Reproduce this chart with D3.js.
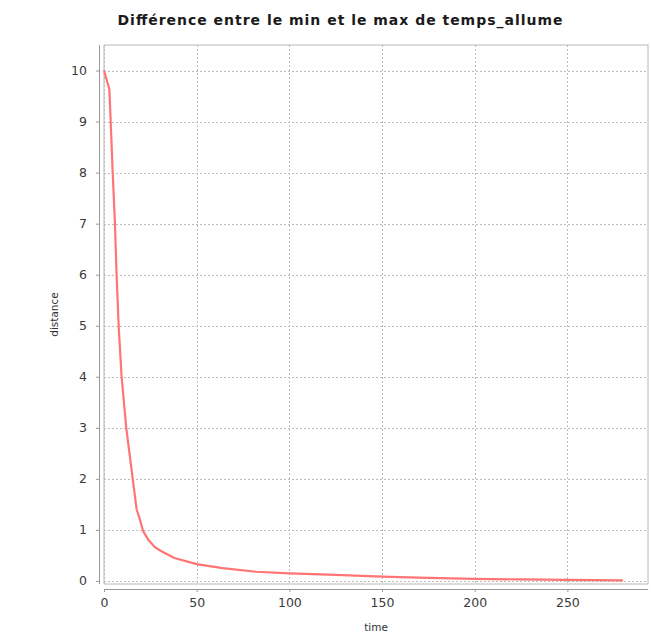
<!DOCTYPE html>
<html><head><meta charset="utf-8">
<script src="https://cdn.jsdelivr.net/npm/d3@7"></script>
<style>body{margin:0;background:#fff;} svg{display:block;}</style>
</head><body>
<svg id="c" width="651" height="635"></svg>
<script>
const chartTitle = "Différence entre le min et le max de temps_allume";
const xLabel = "time";
const yLabel = "distance";
const times = [0, 2.9, 3.6, 4.7, 5.9, 6.8, 7.9, 9.5, 12, 15.5, 17.6, 19.4, 21.2, 24, 27.5, 32, 38, 50, 64, 82, 100, 125, 150, 175, 200, 225, 250, 280];
const distances = [10, 9.63, 9.0, 8.0, 7.0, 6.0, 5.0, 4.0, 3.0, 2.0, 1.4, 1.2, 0.97, 0.8, 0.66, 0.56, 0.45, 0.33, 0.25, 0.18, 0.15, 0.12, 0.085, 0.06, 0.04, 0.03, 0.02, 0.01];
const xTicks = [0, 50, 100, 150, 200, 250];
const yTicks = [0, 1, 2, 3, 4, 5, 6, 7, 8, 9, 10];

const svg = d3.select("#c");
const L = 104, R = 648, T = 45, B = 584;
const x = d3.scaleLinear().domain([0, 293.5]).range([L, R]);
const y = d3.scaleLinear().domain([-0.06, 10.5]).range([B, T]);

// plot background & border
svg.append("rect").attr("x", L).attr("y", T).attr("width", R - L).attr("height", B - T)
  .attr("fill", "#fff").attr("stroke", "#b8b8b8").attr("stroke-width", 1);

// gridlines
const grid = svg.append("g").attr("stroke", "#bdbdbd").attr("stroke-width", 1).attr("stroke-dasharray", "2,2");
grid.selectAll("line.v").data(xTicks).join("line")
  .attr("x1", d => Math.round(x(d)) + 0.5).attr("x2", d => Math.round(x(d)) + 0.5)
  .attr("y1", T).attr("y2", B);
grid.selectAll("line.h").data(yTicks).join("line")
  .attr("y1", d => Math.round(y(d)) + 0.5).attr("y2", d => Math.round(y(d)) + 0.5)
  .attr("x1", L).attr("x2", R);

// axes
const xAxis = d3.axisBottom(x).tickValues(xTicks).tickSizeInner(3).tickSizeOuter(0).tickPadding(6);
const yAxis = d3.axisLeft(y).tickValues(yTicks).tickSizeInner(3).tickSizeOuter(0).tickPadding(9);
const gx = svg.append("g").attr("transform", "translate(0,589)").call(xAxis);
const gy = svg.append("g").attr("transform", "translate(99,0)").call(yAxis);
[gx, gy].forEach(g => {
  g.select(".domain").attr("stroke", "#9a9a9a");
  g.selectAll(".tick line").attr("stroke", "#9a9a9a");
  g.selectAll(".tick text").attr("fill", "#3a3a3a").attr("font-family", "DejaVu Sans, sans-serif").attr("font-size", 12.5);
});
gx.select(".domain").attr("d", `M${L},0.5H${R}`);
gy.select(".domain").attr("d", `M0.5,${T}V${B}`);

// line
const line = d3.line().x((d, i) => x(times[i])).y(d => y(d));
svg.append("path").datum(distances).attr("d", line)
  .attr("fill", "none").attr("stroke", "#ff7474").attr("stroke-width", 2.2).attr("stroke-linejoin", "round");

// title
svg.append("text").attr("x", 340).attr("y", 25).attr("text-anchor", "middle")
  .attr("font-family", "DejaVu Sans, sans-serif").attr("font-weight", "bold").attr("font-size", 14)
  .attr("textLength", 445).attr("lengthAdjust", "spacing")
  .attr("fill", "#1a1a1a").text(chartTitle);
// axis labels
svg.append("text").attr("x", (L + R) / 2).attr("y", 631).attr("text-anchor", "middle")
  .attr("font-family", "DejaVu Sans, sans-serif").attr("font-size", 10.5).attr("fill", "#333").text(xLabel);
svg.append("text").attr("transform", `translate(58,${(T + B) / 2}) rotate(-90)`).attr("text-anchor", "middle")
  .attr("font-family", "DejaVu Sans, sans-serif").attr("font-size", 10.5).attr("fill", "#333").text(yLabel);
</script>
</body></html>
